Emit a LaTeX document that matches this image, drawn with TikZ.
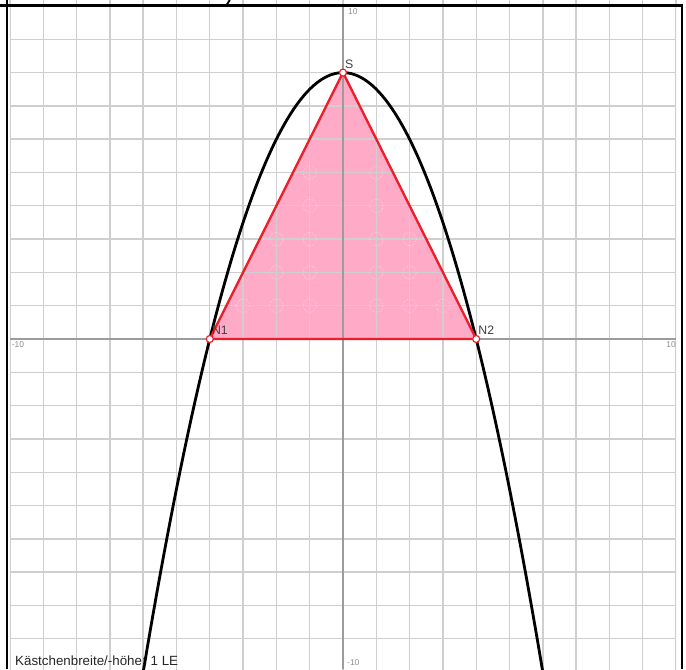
\documentclass[tikz,border=0pt]{standalone}
\usepackage{fontspec}
\setmainfont{Liberation Sans}
\usepackage{tikz}
\usetikzlibrary{positioning, calc}
\usepackage{xcolor}
\definecolor{gridgray}{HTML}{CFCFCF}
\definecolor{axisgray}{HTML}{9C9C9C}
\definecolor{tickgray}{HTML}{8C8C8C}
\definecolor{triared}{HTML}{EE1D2A}
\definecolor{triapink}{HTML}{FFAAC6}

\begin{document}
\begin{tikzpicture}[
  every node/.style={inner sep=0pt},
  gridline/.style={gridgray, line width=1.2pt},
  axis/.style={axisgray, line width=1.3pt},
  curve/.style={black, line width=2.4pt},
  triangle/.style={triared, line width=2pt, line join=round},
  frame/.style={black, line width=2.4pt},
  pt/.style={circle, draw=triared, fill=white, line width=1pt, minimum size=6pt},
  ptlabel/.style={font=\fontsize{10.5}{12}\selectfont, text=black!75},
  tick/.style={font=\fontsize{7.2}{8}\selectfont, text=tickgray},
  mark circle/.style={white, opacity=0.6, line width=0.5pt, densely dotted}
]
  \useasboundingbox (-10.3,-9.91) rectangle (10.3,10.18);

  \coordinate (S)  at (0,8);
  \coordinate (N1) at (-4,0);
  \coordinate (N2) at (4,0);

  % filled triangle below the grid
  \fill[triapink] (S) -- (N1) -- (N2) -- cycle;

  % grid
  \begin{scope}
    \clip (-10,-9.91) rectangle (10,10.02);
    \foreach \x in {-10,...,10}
      \draw[gridline] (\x,-10) -- (\x,10);
    \foreach \y in {-10,...,10}
      \draw[gridline] (-10,\y) -- (10,\y);
  \end{scope}
  \foreach \x in {-10,...,10}
    \draw[gridline] (\x,10.02) -- (\x,10.18);

  % lattice marks inside the triangle
  \foreach \y/\m in {1/3,2/2,3/2,4/1,5/1}
    \foreach \x in {-\m,...,\m}
      {\ifnum\x=0\else \draw[mark circle] (\x,\y) circle (0.2);\fi}

  % axes
  \draw[axis] (-10,0) -- (10,0);
  \draw[axis] (0,-9.91) -- (0,10.02);

  \node[tick, anchor=north west] (ty1) at (0.15,9.92)  {10};
  \node[tick, anchor=north west] (tx1) at (-9.95,-0.06) {-10};
  \node[tick, anchor=north east] (tx2) at (10,-0.06)   {10};
  \node[tick, anchor=north west] (ty2) at (0.12,-9.62) {-10};

  % parabola
  \begin{scope}
    \clip (-10.3,-9.91) rectangle (10.3,10.02);
    \draw[curve] plot[domain=-6.1:6.1, samples=120] (\x,{8-0.5*\x*\x});
  \end{scope}
  \draw[curve, line width=1.6pt] (-3.5,10.02) -- (-3.4,10.18);

  % triangle and points
  \draw[triangle] (S) -- (N1) -- (N2) -- cycle;
  \node[pt] (pS)  at (S)  {};
  \node[pt] (pN1) at (N1) {};
  \node[pt] (pN2) at (N2) {};
  \node[ptlabel, anchor=south west] (lS)  at ($(S)+(0.06,0.12)$)  {S};
  \node[ptlabel, anchor=south west] (lN1) at ($(N1)+(0.06,0.12)$) {N1};
  \node[ptlabel, anchor=south west] (lN2) at ($(N2)+(0.06,0.12)$) {N2};

  % frame
  \draw[frame] (-10.3,10.02) -- (10.2,10.02);
  \draw[frame] (-10.09,10.18) -- (-10.09,-9.91);
  \draw[frame] (10.18,10.02) -- (10.18,-9.91);

  \node[font=\fontsize{11.4}{13}\selectfont, text=black!85, anchor=base west] (note)
    at (-9.85,-9.79) {Kästchenbreite/-höhe: 1 LE};
\end{tikzpicture}
\end{document}
